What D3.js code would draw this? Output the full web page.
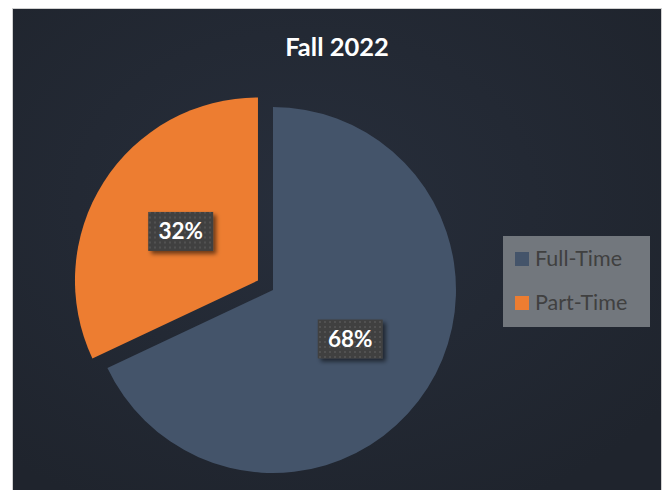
<!DOCTYPE html>
<html><head><meta charset="utf-8">
<script src="https://cdn.jsdelivr.net/npm/d3@7"></script>
<style>html,body{margin:0;padding:0;background:#fff;}svg{display:block;}</style>
</head><body>
<svg id="c" width="667" height="490"></svg>
<script>
const title = "Fall 2022";
const categories = ["Full-Time", "Part-Time"];
const values = [68, 32];
const exploded = [false, true];
const colors = ["#44546a", "#ed7d31"];

const svg = d3.select("#c");
const defs = svg.append("defs");
const bg = defs.append("radialGradient").attr("id","bg").attr("cx","45%").attr("cy","40%").attr("r","70%");
bg.append("stop").attr("offset","0%").attr("stop-color","#272e3b");
bg.append("stop").attr("offset","100%").attr("stop-color","#1f242d");
const pat = defs.append("pattern").attr("id","dots").attr("patternUnits","userSpaceOnUse").attr("width",5).attr("height",5);
pat.append("rect").attr("width",5).attr("height",5).attr("fill","#404040");
pat.append("rect").attr("x",1).attr("y",1).attr("width",2).attr("height",2).attr("fill","#515151");
const sh = defs.append("filter").attr("id","sh").attr("x","-20%").attr("y","-20%").attr("width","150%").attr("height","160%");
sh.append("feDropShadow").attr("dx",3).attr("dy",3).attr("stdDeviation",2.2).attr("flood-color","#000").attr("flood-opacity",0.55);

// chart area
svg.append("rect").attr("x",12.5).attr("y",8.5).attr("width",649).attr("height",485)
  .attr("fill","url(#bg)").attr("stroke","#d0d0d0").attr("stroke-width",1);

svg.append("text").attr("x",337).attr("y",56).attr("text-anchor","middle")
  .attr("font-family","Lato, 'Open Sans', sans-serif").attr("font-weight","bold").attr("font-size",25.5)
  .attr("fill","#ffffff").text(title);

const cx = 273, cy = 290, r = 183, explode = 17.8;
const pie = d3.pie().sort(null).value(d => d.v);
const arcs = pie(categories.map((c,i) => ({c, v: values[i], i})));
const arc = d3.arc().innerRadius(0).outerRadius(r);

const g = svg.append("g").attr("transform",`translate(${cx},${cy})`);
const slices = g.selectAll("g.s").data(arcs).join("g").attr("class","s")
  .attr("transform", d => {
    if (!exploded[d.data.i]) return null;
    const a = (d.startAngle + d.endAngle)/2;
    return `translate(${Math.sin(a)*explode},${-Math.cos(a)*explode})`;
  });
slices.append("path").attr("d", arc).attr("fill", d => colors[d.data.i]);

const bw = 65, bh = 39;
slices.each(function(d){
  const [x,y] = arc.centroid(d);
  const s = d3.select(this);
  s.append("rect").attr("x",x-bw/2).attr("y",y-bh/2).attr("width",bw).attr("height",bh)
    .attr("fill","url(#dots)").attr("filter","url(#sh)");
  s.append("text").attr("x",x).attr("y",y+8).attr("text-anchor","middle")
    .attr("font-family","Lato, 'Open Sans', sans-serif").attr("font-weight","bold").attr("font-size",22.5)
    .attr("fill","#ffffff").text(Math.round(d.data.v) + "%");
});

// legend
const lg = svg.append("g");
lg.append("rect").attr("x",503).attr("y",236).attr("width",147).attr("height",91).attr("fill","#72777d");
const items = lg.selectAll("g.li").data(categories).join("g").attr("class","li")
  .attr("transform",(d,i)=>`translate(515,${252 + i*44})`);
items.append("rect").attr("width",14).attr("height",14).attr("fill",(d,i)=>colors[i]);
items.append("text").attr("x",20).attr("y",13.5).attr("font-family","Lato, 'Open Sans', sans-serif")
  .attr("font-size",21.5).attr("fill","#404040").text(d=>d);
</script>
</body></html>
